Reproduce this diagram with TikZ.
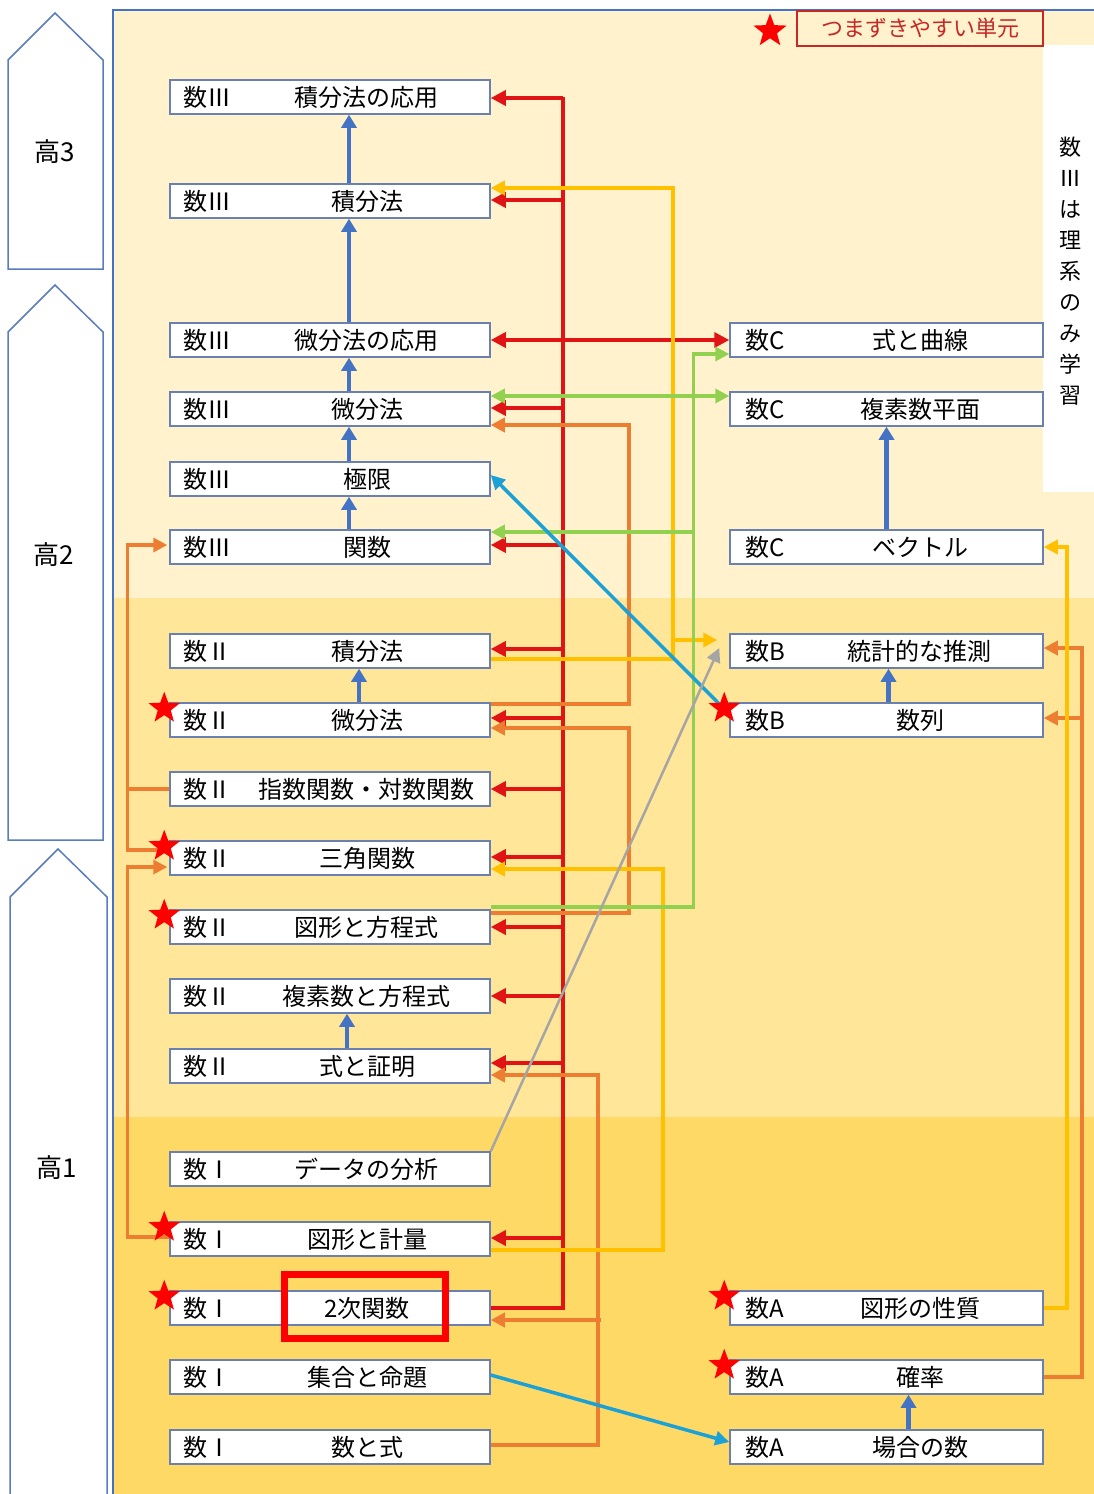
\documentclass[tikz,border=0pt]{standalone}
\usepackage{fontspec}
\setmainfont{Noto Sans CJK JP}
\usetikzlibrary{arrows.meta,calc,shapes.geometric}

\definecolor{bandA}{HTML}{FFF2CC}
\definecolor{bandB}{HTML}{FFE699}
\definecolor{bandC}{HTML}{FFD966}
\definecolor{frameblue}{HTML}{4472C4}
\definecolor{gradeline}{HTML}{5B7BBF}
\definecolor{boxline}{HTML}{6A80B0}
\definecolor{redline}{HTML}{E01414}
\definecolor{orangeline}{HTML}{ED7D31}
\definecolor{yellowline}{HTML}{FFC000}
\definecolor{greenline}{HTML}{92D050}
\definecolor{cyanline}{HTML}{1BA1D6}
\definecolor{grayline}{HTML}{A5A5A5}
\definecolor{upblue}{HTML}{4472C4}
\definecolor{starred}{HTML}{FF0000}
\definecolor{legendred}{HTML}{C62828}

\newcommand{\unitfont}{\fontsize{24}{28}\selectfont}
\newcommand{\gradefont}{\fontsize{26}{30}\selectfont}
\newcommand{\lunit}[2]{\hbox to 294pt{\rlap{#1}\hskip184pt\makebox[0pt]{#2}\hfil}}
\newcommand{\runit}[2]{\hbox to 283pt{\rlap{#1}\hskip175pt\makebox[0pt]{#2}\hfil}}

\begin{document}
\begin{tikzpicture}
[
    x = 1pt, y = -1pt,
    >= {Triangle[length=14pt,width=14pt]},
    lbox/.style    = {draw=boxline, fill=white,
                      line width=1.5pt,
                      minimum width=320pt,
                      minimum height=34pt,
                      inner sep=0pt,
                      font=\unitfont},
    rbox/.style    = {lbox,
                      minimum width=313pt},
    grade/.style   = {draw=gradeline, fill=white,
                      line width=1.5pt},
    redln/.style   = {line width=3.5pt, color=redline},
    redarr/.style  = {redln, -{Triangle[length=15pt,width=15pt]}},
    orln/.style    = {line width=3.5pt, color=orangeline},
    orarr/.style   = {orln, ->},
    yeln/.style    = {line width=3.5pt, color=yellowline},
    yearr/.style   = {yeln, ->},
    grln/.style    = {line width=3.5pt, color=greenline},
    grarr/.style   = {grln, ->},
    cyarr/.style   = {line width=3.5pt, color=cyanline, ->},
    gyarr/.style   = {line width=2.5pt, color=grayline, ->},
    uparr/.style   = {line width=4.5pt, color=upblue,
                      -{Triangle[length=13pt,width=15pt]}},
    redstar/.style = {star, star points=5,
                      star point ratio=2.4,
                      fill=starred,
                      minimum size=33pt,
                      inner sep=0pt}
]

\useasboundingbox (0,0) rectangle (1094,1494);
\begin{scope}
\clip (0,0) rectangle (1094,1494);
\fill[bandA] (113,10) rectangle (1094,598);
\fill[bandB] (113,598) rectangle (1094,1117);
\fill[bandC] (113,1117) rectangle (1094,1494);
\fill[white] (1043,45) rectangle (1094,492);
\draw[frameblue, line width=2.5pt] (113,1510) |- (1110,10);
\draw[grade] (8,269) -- (8,60) -- (55,13) -- (103,60) -- (103,269) -- cycle;
\draw[grade] (8,840) -- (8,332) -- (55,285) -- (103,332) -- (103,840) -- cycle;
\draw[grade] (10,1510) -- (10,897) -- (58,849) -- (107,897) -- (107,1510);
\end{scope}

\node (g3) [font=\gradefont] at (55,152) {高3};
\node (g2) [font=\gradefont] at (54,555) {高2};
\node (g1) [font=\gradefont] at (57,1168) {高1};

\node (a1) [lbox] at (330,97)   {\lunit{数Ⅲ}{積分法の応用}};
\node (a2) [lbox] at (330,201)  {\lunit{数Ⅲ}{積分法}};
\node (a3) [lbox] at (330,340)  {\lunit{数Ⅲ}{微分法の応用}};
\node (a4) [lbox] at (330,409)  {\lunit{数Ⅲ}{微分法}};
\node (a5) [lbox] at (330,479)  {\lunit{数Ⅲ}{極限}};
\node (a6) [lbox] at (330,547)  {\lunit{数Ⅲ}{関数}};

\node (b1) [lbox] at (330,651)  {\lunit{数Ⅱ}{積分法}};
\node (b2) [lbox] at (330,720)  {\lunit{数Ⅱ}{微分法}};
\node (b3) [lbox] at (330,789)  {\lunit{数Ⅱ}{指数関数・対数関数}};
\node (b4) [lbox] at (330,858)  {\lunit{数Ⅱ}{三角関数}};
\node (b5) [lbox] at (330,927)  {\lunit{数Ⅱ}{図形と方程式}};
\node (b6) [lbox] at (330,996)  {\lunit{数Ⅱ}{複素数と方程式}};
\node (b7) [lbox] at (330,1066) {\lunit{数Ⅱ}{式と証明}};

\node (c1) [lbox] at (330,1169) {\lunit{数Ⅰ}{データの分析}};
\node (c2) [lbox] at (330,1239) {\lunit{数Ⅰ}{図形と計量}};
\node (c3) [lbox] at (330,1308) {\lunit{数Ⅰ}{2次関数}};
\node (c4) [lbox] at (330,1377) {\lunit{数Ⅰ}{集合と命題}};
\node (c5) [lbox] at (330,1447) {\lunit{数Ⅰ}{数と式}};

\node (r1) [rbox] at (886.5,340)  {\runit{数C}{式と曲線}};
\node (r2) [rbox] at (886.5,409)  {\runit{数C}{複素数平面}};
\node (r3) [rbox] at (886.5,547)  {\runit{数C}{ベクトル}};
\node (r4) [rbox] at (886.5,651)  {\runit{数B}{統計的な推測}};
\node (r5) [rbox] at (886.5,720)  {\runit{数B}{数列}};
\node (r6) [rbox] at (886.5,1308) {\runit{数A}{図形の性質}};
\node (r7) [rbox] at (886.5,1377) {\runit{数A}{確率}};
\node (r8) [rbox] at (886.5,1447) {\runit{数A}{場合の数}};

\foreach \s/\t/\dx in {a2/a1/19, a3/a2/19, a4/a3/19, a5/a4/19, a6/a5/19,
                       b2/b1/29, b7/b6/17, r3/r2/0, r5/r4/2, r8/r7/22}
    \draw[uparr] ($(\s.north)+(\dx,0)$) -- ($(\t.south)+(\dx,0)$);

\coordinate (rtop) at (563,97);
\draw[redln] (c3.east) -| (rtop);
\foreach \n/\dy in {a1/1, a2/-1, a4/-1, a6/-2, b1/-2, b2/-2, b3/0,
                    b4/-1, b5/0, b6/0, b7/-3, c2/-1}
    \draw[redarr] ($(\n.east -| rtop)+(0,\dy)$) -- ($(\n.east)+(0,\dy)$);
\draw[redln, {Triangle[length=15pt,width=15pt]}-{Triangle[length=15pt,width=15pt]}] (a3.east) -- (r1.west);

\draw[orarr] ($(b2.east)+(0,-16)$) -| ($(a4.east)+(138,16)$) -- ($(a4.east)+(0,16)$);
\draw[orarr] ($(b5.east)+(0,-14)$) -| ($(b2.east)+(138,8)$) -- ($(b2.east)+(0,8)$);
\draw[orarr] ($(c5.east)+(0,-2)$) -| ($(b7.east)+(107,9)$) -- ($(b7.east)+(0,9)$);
\draw[orarr] ($(c3.east)+(110,12)$) -- ($(c3.east)+(0,12)$);
\draw[orarr] ($(b4.west)+(0,-8)$) -| ($(a6.west)+(-42,-2)$) -- ($(a6.west)+(-2,-2)$);
\draw[orln] (b3.west) -- +(-42,0);
\draw[orarr] ($(c2.west)+(0,-2)$) -| ($(b4.west)+(-42,9)$) -- ($(b4.west)+(-2,9)$);
\draw[orarr] (r7.east) -| ($(r4.east)+(38,-3)$) -- ($(r4.east)+(0,-3)$);
\draw[orarr] ($(r5.east)+(38,-2)$) -- ($(r5.east)+(0,-2)$);

\draw[yearr] ($(b1.east)+(0,8)$) -| ($(a2.east)+(182,-13)$) -- ($(a2.east)+(0,-13)$);
\draw[yearr] ($(r4.west)+(-58,-11)$) -- ($(r4.west)+(-12,-11)$);
\draw[yearr] ($(c2.east)+(0,11)$) -| ($(b4.east)+(172,11)$) -- ($(b4.east)+(0,11)$);
\draw[yearr] (r6.east) -| ($(r3.east)+(23,0)$) -- (r3.east);

\draw[grln, <->] ($(a4.east)+(0,-13)$) -- ($(r2.west)+(0,-13)$);
\draw[grarr] ($(b5.east)+(0,-20)$) -| ($(r1.west)+(-36,14)$) -- ($(r1.west)+(0,14)$);
\draw[grarr] ($(a6.east)+(204,-15)$) -- ($(a6.east)+(0,-15)$);

\draw[cyarr] ($(r5.west)+(0,-6)$) -- ($(a5.east)+(0,-4)$);
\draw[cyarr] ($(c4.east)+(0,-2)$) -- ($(r8.west)+(0,-5)$);

\draw[gyarr] (c1.north east) -- ($(r4.west)+(-10,-3)$);

\foreach \n in {b2, b4, b5, c2, c3, r5, r6, r7}
    \node (st\n) [redstar] at ($(\n.north west)+(-5,6)$) {};

\node (hl) [draw=red, line width=7pt,
            minimum width=161pt,
            minimum height=64pt] at (364.5,1306) {};

\node (legend) [draw=legendred, fill=bandA,
                line width=1.5pt,
                minimum width=246pt,
                minimum height=35pt,
                text=legendred,
                font=\fontsize{22}{26}\selectfont] at (920,28.5) {つまずきやすい単元};
\node (legstar) [redstar, minimum size=35pt] at (770,31) {};

\node (note) [align=center,
              font=\fontsize{22}{31}\selectfont] at (1070,271)
    {数\\Ⅲ\\は\\理\\系\\の\\み\\学\\習};

\end{tikzpicture}
\end{document}
